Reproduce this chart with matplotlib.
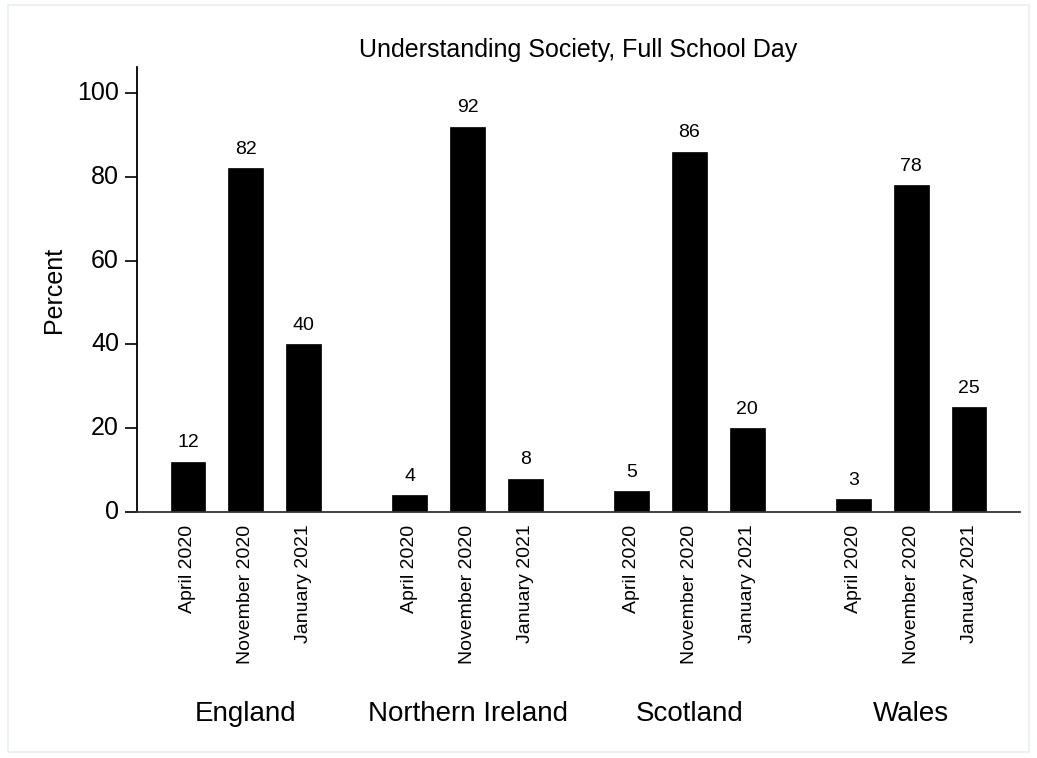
import matplotlib.pyplot as plt
import numpy as np
from matplotlib.patches import Rectangle

plt.rcParams['font.family'] = ['Liberation Sans', 'DejaVu Sans']

countries = ['England', 'Northern Ireland', 'Scotland', 'Wales']
periods = ['April 2020', 'November 2020', 'January 2021']
april_2020 = [12, 4, 5, 3]
november_2020 = [82, 92, 86, 78]
january_2021 = [40, 8, 20, 25]

group_step = 3.83
values = np.array([april_2020, november_2020, january_2021]).T  # rows = countries

fig = plt.figure(figsize=(10.37, 7.58), dpi=100)
ax = fig.add_axes([0.1321, 0.3245, 0.8515, 0.5871])

xs = []
labels = []
for g, country in enumerate(countries):
    for i, per in enumerate(periods):
        x = g * group_step + i
        v = values[g, i]
        ax.bar(x, v, width=0.6, color='black', edgecolor='black', linewidth=0.5)
        ax.text(x, v + 2.5, str(v), ha='center', va='bottom', fontsize=14)
        xs.append(x)
        labels.append(per)
    ax.text(g * group_step + 1, -48.3, country, ha='center', va='center',
            fontsize=20, transform=ax.transData)

ax.set_xlim(-0.88, 3 * group_step + 2.88)
ax.set_ylim(0, 106.2)
ax.set_xticks(xs)
ax.set_xticklabels(labels, rotation=90, fontsize=14, va='top', ha='center')
ax.tick_params(axis='x', length=0, pad=9)
ax.set_yticks([0, 20, 40, 60, 80, 100])
ax.tick_params(axis='y', labelsize=18, length=9, width=1.2, pad=4)
for lab in ax.get_yticklabels():
    lab.set_verticalalignment('center')

ax.spines['top'].set_visible(False)
ax.spines['right'].set_visible(False)
ax.spines['left'].set_linewidth(1.3)
ax.spines['bottom'].set_linewidth(1.3)
ax.spines['bottom'].set_color('#333333')

ax.set_ylabel('Percent', fontsize=18, labelpad=8)
ax.set_title('Understanding Society, Full School Day', fontsize=18, pad=7)

# faint frame round the picture
fig.patches.append(Rectangle((0.008, 0.008), 0.984, 0.985, transform=fig.transFigure,
                             fill=False, edgecolor='#e6f0ee', linewidth=1.2))

fig.savefig('out.png', dpi=100)
